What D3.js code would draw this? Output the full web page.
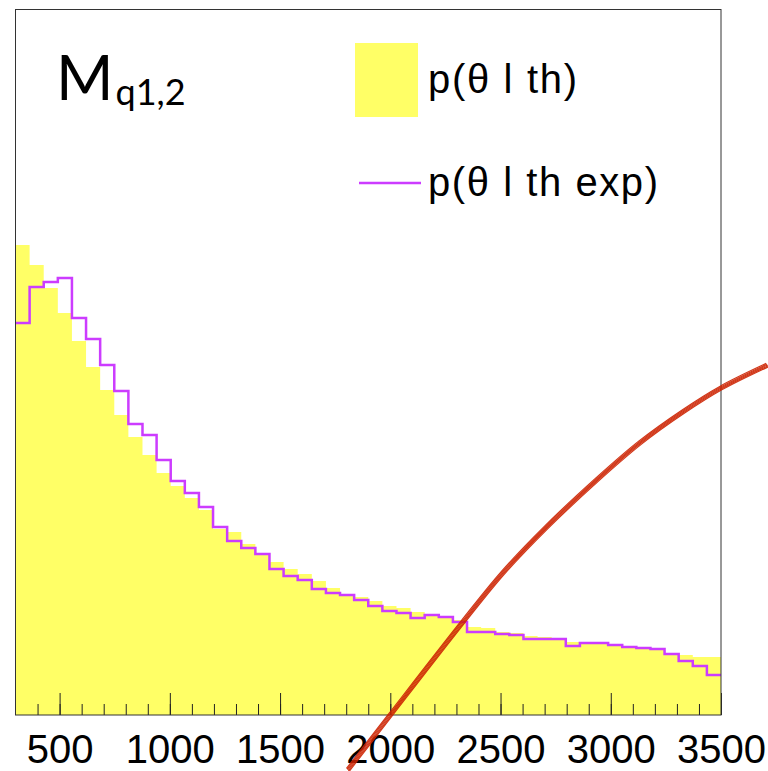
<!DOCTYPE html>
<html>

<head>
	<meta charset='utf-8'>
	<style>
		body {
			margin: 0;
			background-color: white;
		}

		svg {
			display: block;
		}
	</style>
</head>

<body>
	<svg></svg>
	<script src="https://d3js.org/d3.v7.min.js"></script>
	<script>
		// histogram, 50 bins of 64 starting at 300
		var binStart = 300, binWidth = 64;
		var thValues = [470, 450, 427, 402, 374, 348, 325, 300, 278, 260,
			242, 229, 217, 205, 186, 183, 171, 161, 153, 146,
			141, 134, 127, 121, 118, 114, 109, 107, 103, 101,
			98, 95, 88, 87, 83, 82, 79, 78, 77, 73,
			72, 72, 70, 68, 67, 65, 62, 60, 58, 58];
		var thExpValues = [392, 428, 433, 437, 397, 376, 350, 324, 291, 280,
			255, 234, 222, 208, 188, 174, 167, 161, 146, 139,
			135, 126, 122, 120, 115, 109, 104, 102, 97, 100,
			98, 93, 83, 83, 81, 80, 76, 76, 76, 69,
			72, 72, 70, 68, 67, 66, 61, 54, 49, 40];
		// the red curve (x, y) in the same units
		var curveX = [1807, 2000, 2329, 2510, 2709, 2936, 3131, 3326, 3500, 3711];
		var curveY = [-55, 0, 93, 142, 188, 235, 272, 303, 327, 350];
		var majorTicks = [500, 1000, 1500, 2000, 2500, 3000, 3500];
		var legendLabels = ['p(θ l th)', 'p(θ l th exp)'];

		var svg_width = 768, svg_height = 771;
		var frameLeft = 15.5, frameRight = 721, frameTop = 9.5, frameBottom = 715;
		var yellow = '#ffff66', purple = '#cc3cff', red = '#cc2200';

		var svg = d3.select('svg').attr('width', svg_width).attr('height', svg_height);

		var x_scale = d3.scaleLinear().domain([300, 3500]).range([frameLeft, frameRight]);
		var y_scale = d3.scaleLinear().domain([0, 705.5]).range([frameBottom, frameTop]);

		var edges = thValues.map(function (v, i) { return binStart + i * binWidth; });

		function stepData(vals) {
			var pts = vals.map(function (v, i) { return [edges[i], v]; });
			pts.push([binStart + vals.length * binWidth, vals[vals.length - 1]]);
			return pts;
		}

		var area = d3.area()
			.x(function (d) { return x_scale(d[0]); })
			.y0(y_scale(0))
			.y1(function (d) { return y_scale(d[1]); })
			.curve(d3.curveStepAfter);
		svg.append('path').datum(stepData(thValues))
			.attr('d', area)
			.attr('fill', yellow);

		var step = d3.line()
			.x(function (d) { return x_scale(d[0]); })
			.y(function (d) { return y_scale(d[1]); })
			.curve(d3.curveStepAfter);
		svg.append('path').datum(stepData(thExpValues))
			.attr('d', step)
			.attr('fill', 'none')
			.attr('stroke', purple)
			.attr('stroke-width', 2.5);

		// bottom axis, ticks pointing up
		var minor = d3.axisBottom(x_scale).tickValues(d3.range(400, 3501, 100)).tickSize(-11).tickFormat('');
		var major = d3.axisBottom(x_scale).tickValues(majorTicks).tickSize(-22).tickFormat(d3.format('d'));
		var gMinor = svg.append('g').attr('transform', 'translate(0,' + frameBottom + ')').call(minor);
		var gMajor = svg.append('g').attr('transform', 'translate(0,' + frameBottom + ')').call(major);
		gMinor.select('.domain').remove();
		gMajor.select('.domain').remove();
		svg.selectAll('.tick line').attr('stroke', '#222');
		gMajor.selectAll('.tick text')
			.attr('y', 48).attr('dy', 0)
			.attr('font-family', 'Liberation Sans, Arial, sans-serif')
			.attr('font-size', 40)
			.attr('fill', 'black');

		// frame
		svg.append('rect')
			.attr('x', frameLeft).attr('y', frameTop)
			.attr('width', frameRight - frameLeft).attr('height', frameBottom - frameTop)
			.attr('fill', 'none').attr('stroke', '#333').attr('stroke-width', 1);

		// red bundle of curves
		var pts = curveX.map(function (v, i) { return [v, curveY[i]]; });
		var curve = d3.line()
			.x(function (d) { return x_scale(d[0]); })
			.y(function (d) { return y_scale(d[1]); })
			.curve(d3.curveCatmullRom);
		[-1.6, -0.8, 0, 0.8, 1.6].forEach(function (off) {
			svg.append('path').datum(pts)
				.attr('d', curve)
				.attr('transform', 'translate(' + (off * 0.8) + ',' + off + ')')
				.attr('fill', 'none')
				.attr('stroke', red)
				.attr('stroke-width', 1.2)
				.attr('stroke-opacity', 0.9);
		});

		// title
		var title = svg.append('text')
			.attr('x', 56).attr('y', 100)
			.attr('font-family', 'Lato, sans-serif')
			.attr('fill', 'black');
		title.append('tspan').attr('font-size', 62).text('M');
		title.append('tspan').attr('font-size', 36).attr('dy', 5).attr('dx', 2).text('q1,2');

		// legend
		svg.append('rect')
			.attr('x', 355).attr('y', 43).attr('width', 63).attr('height', 74)
			.attr('fill', yellow);
		svg.append('line')
			.attr('x1', 359).attr('x2', 421).attr('y1', 183).attr('y2', 183)
			.attr('stroke', purple).attr('stroke-width', 2.5);
		svg.append('text')
			.attr('x', 428).attr('y', 93)
			.attr('font-family', 'Liberation Sans, Arial, sans-serif')
			.attr('font-size', 40)
			.attr('textLength', 149)
			.text(legendLabels[0]);
		svg.append('text')
			.attr('x', 428).attr('y', 196)
			.attr('font-family', 'Liberation Sans, Arial, sans-serif')
			.attr('font-size', 40)
			.attr('textLength', 230)
			.text(legendLabels[1]);
	</script>
</body>

</html>
